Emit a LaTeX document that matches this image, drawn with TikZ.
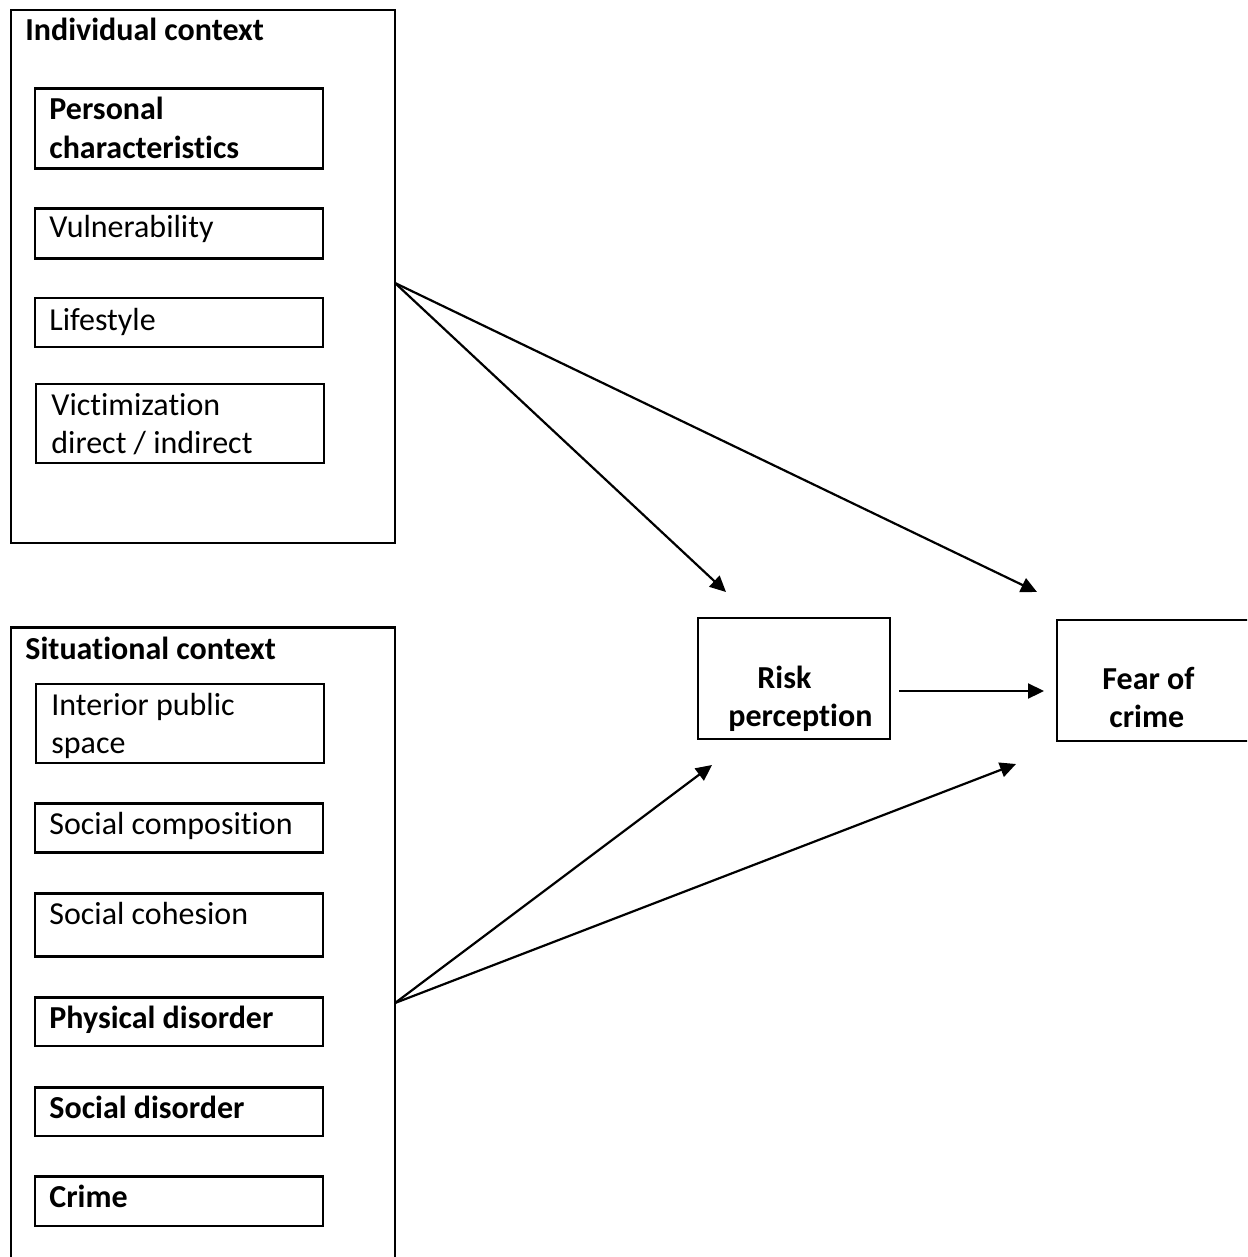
\documentclass[tikz,border=0pt]{standalone}
\usepackage{fontspec}
\setmainfont{Carlito}[Ligatures={NoCommon}]
\usetikzlibrary{fit,arrows.meta}
\begin{document}
\begin{tikzpicture}[x=0.5pt,y=-0.5pt,
  box/.style={draw,line width=1.2pt,inner sep=0pt},
  lbl/.style={anchor=base west,inner sep=0pt,font=\fontsize{16pt}{19pt}\selectfont},
  blbl/.style={anchor=base west,inner sep=0pt,font=\fontsize{16pt}{19pt}\selectfont\bfseries},
  arr/.style={line width=1.1pt,-{Triangle[length=8pt,width=7.5pt]}}]
\useasboundingbox (0,0) rectangle (1247,1257);
\clip (0,0) rectangle (1247,1257);
% individual context
\node[box,fit={(11,10)(395,543)}] (ind) {};
\node[blbl] (indt) at (25,41) {Individual context};
\node[box,fit={(35,88.5)(323,168.5)}] (pc) {};
\node[blbl] (pct1) at (49,119.5) {Personal};
\node[blbl] (pct2) at (49,158.5) {characteristics};
\node[box,fit={(35,208.7)(323,258.3)}] (vu) {};
\node[lbl] (vut) at (49,238) {Vulnerability};
\node[box,fit={(35,298)(323,347)}] (ls) {};
\node[lbl] (lst) at (49,330) {Lifestyle};
\node[box,fit={(36,384)(324,463)}] (vi) {};
\node[lbl] (vit1) at (51,415.5) {Victimization};
\node[lbl] (vit2) at (51,453.5) {direct / indirect};
% situational context
\node[box,fit={(11,627.5)(395,1275)}] (sit) {};
\node[blbl] (sitt) at (25,659) {Situational context};
\node[box,fit={(36,683.7)(324,763.2)}] (ip) {};
\node[lbl] (ipt1) at (51,715) {Interior public};
\node[lbl] (ipt2) at (51,753) {space};
\node[box,fit={(35,803.4)(323,852.5)}] (sc) {};
\node[lbl] (sct) at (49,834) {Social composition};
\node[box,fit={(35,893.4)(323,956.3)}] (sh) {};
\node[lbl] (sht) at (49,924) {Social cohesion};
\node[box,fit={(35,997.3)(323,1046)}] (pd) {};
\node[blbl] (pdt) at (49,1028) {Physical disorder};
\node[box,fit={(35,1087.4)(323,1136)}] (sd) {};
\node[blbl] (sdt) at (49,1118) {Social disorder};
\node[box,fit={(35,1176.6)(323,1226.2)}] (cr) {};
\node[blbl] (crt) at (49,1207) {Crime};
% outcome boxes
\node[box,fit={(698,618)(890,739)}] (risk) {};
\node[blbl] (riskt1) at (757,688) {Risk};
\node[blbl] (riskt2) at (728,726) {perception};
\node[box,fit={(1057,620)(1265,741)}] (fear) {};
\node[blbl] (feart1) at (1102,689) {Fear of};
\node[blbl] (feart2) at (1109,727) {crime};
% connector points
\coordinate (s1) at (395,283);
\coordinate (s2) at (395,1003);
\coordinate (r1) at (726,592);
\coordinate (f1) at (1037,592);
\coordinate (r2) at (712,765);
\coordinate (f2) at (1016,764);
\coordinate (m1) at (899,691);
\coordinate (m2) at (1044,691);
\draw[arr] (s1) -- (r1);
\draw[arr] (s1) -- (f1);
\draw[arr] (s2) -- (r2);
\draw[arr] (s2) -- (f2);
\draw[arr] (m1) -- (m2);
\end{tikzpicture}
\end{document}
